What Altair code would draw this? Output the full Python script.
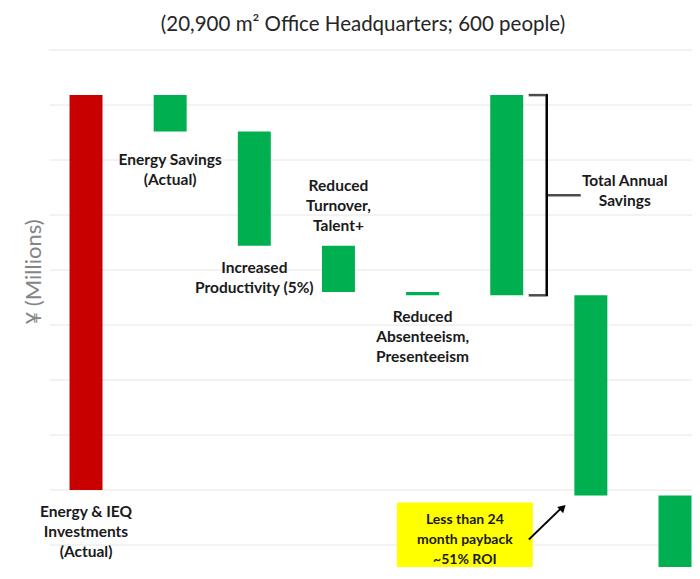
import altair as alt
import pandas as pd

# ---- data (¥ millions) ----
categories = ["Investment", "Energy", "Productivity", "Turnover", "Absenteeism", "Total", "Year 2", "Year 3"]
bar_start = [0, 359, 326, 222, 180, 359, 177, -5]
bar_end = [359, 326, 222, 180, 177, 177, -5, -187]
bar_kind = ["Investment", "Saving", "Saving", "Saving", "Saving", "Saving", "Saving", "Saving"]
bar_labels = [
    "Energy & IEQ\nInvestments\n(Actual)",
    "Energy Savings\n(Actual)",
    "Increased\nProductivity (5%)",
    "Reduced\nTurnover,\nTalent+",
    "Reduced\nAbsenteeism,\nPresenteeism",
    "Total Annual\nSavings",
    "",
    "",
]
payback_text = "Less than 24\nmonth payback\n~51% ROI"
title_text = "(20,900 m\u00b2 Office Headquarters; 600 people)"
y_title = "\u00a5 (Millions)"
grid_values = [-50, 0, 50, 100, 150, 200, 250, 300, 350, 400]

df = pd.DataFrame({
    "category": categories,
    "start": bar_start,
    "end": bar_end,
    "kind": bar_kind,
    "label": bar_labels,
})
df["low"] = df[["start", "end"]].min(axis=1)
df["high"] = df[["start", "end"]].max(axis=1)
df["mid"] = (df["start"] + df["end"]) / 2
grid_df = pd.DataFrame({"start": grid_values})

FONT = "Lato"
TEXT_COLOR = "#1a1a1a"

x_main = alt.X("category:N", sort=categories, axis=None,
               scale=alt.Scale(paddingInner=0.608, paddingOuter=0.131, align=0.977))
x_plain = alt.X("category:N", sort=categories, axis=None)
y_scale = alt.Scale(domain=[-70, 400], nice=False, zero=False)


def Y(field):
    return alt.Y(field, axis=None, scale=y_scale)


base = alt.Chart(df)

grid = alt.Chart(grid_df).mark_rule(color="#e6e6e6", strokeWidth=1).encode(y=Y("start:Q"))

# white cover over the left frame edge of the plot area
left_cover = alt.Chart(grid_df).transform_filter(
    alt.FieldEqualPredicate(field="start", equal=0)
).mark_rule(color="white", strokeWidth=3).encode(
    x=alt.value(0), y=alt.value(0), y2=alt.value(517))

y_title_mark = alt.Chart(grid_df).transform_filter(
    alt.FieldEqualPredicate(field="start", equal=0)
).mark_text(text=y_title, font=FONT, fontSize=22, color="#858585", angle=270,
            align="center", baseline="middle").encode(x=alt.value(-14), y=alt.value(222))

bars = base.mark_bar().encode(
    x=x_main,
    y=Y("start:Q"),
    y2="end:Q",
    color=alt.Color("kind:N", legend=None,
                    scale=alt.Scale(domain=["Investment", "Saving"], range=["#c80000", "#00b050"])),
)

text_style = dict(font=FONT, fontWeight="bold", fontSize=15.5, lineHeight=20,
                  lineBreak="\n", color=TEXT_COLOR, align="center")
box_text_style = dict(text_style, fontSize=14)

below_labels = base.transform_filter(
    alt.FieldOneOfPredicate(field="category", oneOf=["Investment", "Productivity", "Absenteeism"])
).mark_text(baseline="top", dy=15, **text_style).encode(
    x=x_plain, y=Y("low:Q"), text="label:N")

energy_label = base.transform_filter(
    alt.FieldEqualPredicate(field="category", equal="Energy")
).mark_text(baseline="top", dy=22, **text_style).encode(
    x=x_plain, y=Y("low:Q"), text="label:N")

above_labels = base.transform_filter(
    alt.FieldOneOfPredicate(field="category", oneOf=["Turnover"])
).mark_text(baseline="bottom", dy=-52, **text_style).encode(
    x=x_plain, y=Y("high:Q"), text="label:N")

total_only = base.transform_filter(alt.FieldEqualPredicate(field="category", equal="Total"))

total_label = total_only.mark_text(baseline="middle", dx=118, dy=-14, **text_style).encode(
    x=x_plain, y=Y("mid:Q"), text="label:N")

brace_style = dict(color="black", strokeCap="round")
brace_vertical = total_only.mark_rule(xOffset=40, strokeWidth=2.5, **brace_style).encode(
    x=x_plain, y=Y("start:Q"), y2="end:Q")
brace_top = total_only.mark_tick(xOffset=30.5, size=17, thickness=2.5, **brace_style).encode(
    x=x_plain, y=Y("start:Q"))
brace_bottom = total_only.mark_tick(xOffset=30.5, size=17, thickness=2.5, **brace_style).encode(
    x=x_plain, y=Y("end:Q"))
brace_tip = total_only.mark_tick(xOffset=57, size=34, thickness=2.5, **brace_style).encode(
    x=x_plain, y=Y("mid:Q"))

year2_only = base.transform_filter(alt.FieldEqualPredicate(field="category", equal="Year 2"))

payback_box = year2_only.mark_bar(width=136, xOffset=-126, yOffset=80, y2Offset=7,
                                  color="#ffff00").encode(
    x=x_plain, y=Y("end:Q"), y2="end:Q")

payback_label = year2_only.mark_text(baseline="top", dx=-126, dy=17, **box_text_style).encode(
    x=x_plain, y=Y("end:Q"), text=alt.value(payback_text))

arrow_line = year2_only.mark_rule(xOffset=-62, x2Offset=-29, yOffset=44, y2Offset=12,
                                  strokeWidth=1.8, color="black").encode(
    x=x_plain, x2="category", y=Y("end:Q"), y2="end:Q")

arrow_head = year2_only.mark_point(shape="triangle-up", filled=True, size=75, angle=46,
                                   xOffset=-28, yOffset=12, color="black", opacity=1).encode(
    x=x_plain, y=Y("end:Q"))

chart = alt.layer(
    grid, left_cover, y_title_mark, bars, below_labels, energy_label, above_labels, total_label,
    brace_vertical, brace_top, brace_bottom, brace_tip,
    payback_box, payback_label, arrow_line, arrow_head,
).properties(
    width=644,
    height=517,
    autosize=alt.AutoSizeParams(type="none"),
    padding={"left": 40, "top": 42, "right": 0, "bottom": 0},
    title=alt.TitleParams(text=title_text, font=FONT, fontSize=20.5, fontWeight="normal",
                          color="#262626", anchor="middle", frame="group",
                          baseline="alphabetic", offset=19, dx=-7, dy=22),
).configure(background="white").configure_view(stroke=None, strokeWidth=0)

chart.save("out.html", embed_options={"renderer": "svg", "actions": False})
